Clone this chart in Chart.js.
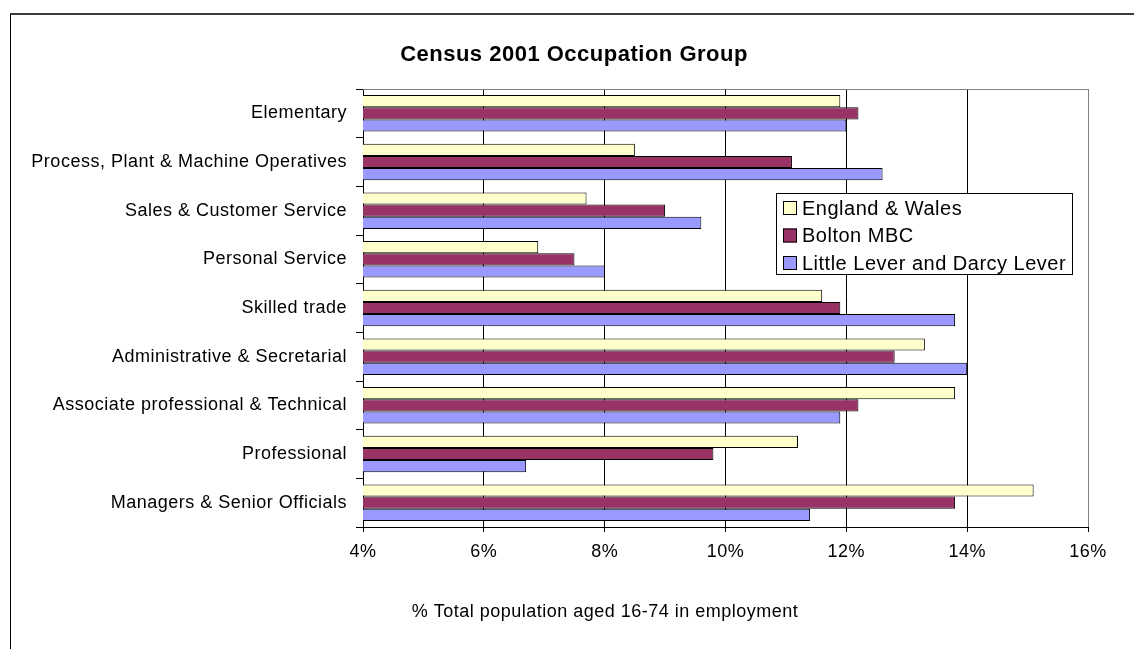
<!DOCTYPE html>
<html>
<head>
<meta charset="utf-8">
<script src="https://cdn.jsdelivr.net/npm/chart.js@4.4.0/dist/chart.umd.min.js"></script>
<style>
    body { margin: 0; background: #fff; }
    #wrap { position: relative; width: 1134px; height: 649px; }
    #frame { position: absolute; left: 10px; top: 13px; right: 0; bottom: 0; border-top: 2px solid #3a3a3a; border-left: 1px solid #000; }
    #chart { position: absolute; left: 0; top: 0; }
</style>
</head>
<body>
<div id="wrap">
    <div id="frame"></div>
    <canvas id="chart" width="1134" height="649"></canvas>
</div>
<script>
// Kategorien (von oben nach unten)
var kategorien = [
    "Elementary",
    "Process, Plant & Machine Operatives",
    "Sales & Customer Service",
    "Personal Service",
    "Skilled trade",
    "Administrative & Secretarial",
    "Associate professional & Technical",
    "Professional",
    "Managers & Senior Officials"
];
var serienNamen = ["England & Wales", "Bolton MBC", "Little Lever and Darcy Lever"];
var englandWales = [11.9, 8.5, 7.7, 6.9, 11.6, 13.3, 13.8, 11.2, 15.1];
var bolton = [12.2, 11.1, 9.0, 7.5, 11.9, 12.8, 12.2, 9.8, 13.8];
var littleLever = [12.0, 12.6, 9.6, 8.0, 13.8, 14.0, 11.9, 6.7, 11.4];
var farben = ["#FFFFCC", "#993366", "#9999FF"];
var xTicks = [4, 6, 8, 10, 12, 14, 16];

var titel = "Census 2001 Occupation Group";
var achsenTitel = "% Total population aged 16-74 in employment";
var schrift = "'Liberation Sans', Arial, sans-serif";

//Titel, Rahmen, Legende und Achsentitel
var extras = {
    id: "extras",
    beforeDraw: function (chart) {
        chart.ctx.letterSpacing = "0.5px";
    },
    beforeDatasetsDraw: function (chart) {
        var ctx = chart.ctx;
        var a = chart.chartArea;
        ctx.save();
        ctx.strokeStyle = "#808080";
        ctx.lineWidth = 1;
        ctx.beginPath();
        ctx.moveTo(a.left, Math.round(a.top) + 0.5);
        ctx.lineTo(a.right, Math.round(a.top) + 0.5);
        ctx.stroke();
        ctx.restore();
    },
    afterDraw: function (chart) {
        var ctx = chart.ctx;
        ctx.save();
        ctx.letterSpacing = "0.5px";
        //Titel
        ctx.fillStyle = "#000";
        ctx.font = "bold 22px " + schrift;
        ctx.textAlign = "center";
        ctx.textBaseline = "alphabetic";
        ctx.fillText(titel, 574, 61);
        //Legende
        var lx = 776, ly = 193, lw = 296, lh = 81;
        ctx.fillStyle = "#fff";
        ctx.fillRect(lx, ly, lw, lh);
        ctx.strokeStyle = "#000";
        ctx.lineWidth = 1;
        ctx.strokeRect(lx + 0.5, ly + 0.5, lw, lh);
        ctx.font = "20px " + schrift;
        ctx.textBaseline = "middle";
        ctx.textAlign = "left";
        chart.data.datasets.forEach(function (ds, i) {
            var y = ly + 15 + i * 27.5;
            ctx.fillStyle = ds.backgroundColor;
            ctx.fillRect(lx + 7, y - 7, 14, 14);
            ctx.strokeStyle = "#000";
            ctx.strokeRect(lx + 7.5, y - 6.5, 13, 13);
            ctx.fillStyle = "#000";
            ctx.fillText(ds.label, lx + 26, y + 1);
        });
        //Achsentitel
        ctx.font = "18px " + schrift;
        ctx.textAlign = "center";
        ctx.fillText(achsenTitel, 605, 612);
        ctx.restore();
    }
};

var canvas = document.getElementById("chart");
var myChart = new Chart(canvas, {
    type: "bar",
    data: {
        labels: kategorien,
        datasets: [
            { label: serienNamen[0], data: englandWales, backgroundColor: farben[0] },
            { label: serienNamen[1], data: bolton, backgroundColor: farben[1] },
            { label: serienNamen[2], data: littleLever, backgroundColor: farben[2] }
        ].map(function (ds) {
            ds.borderColor = "#000";
            ds.borderWidth = 1;
            ds.borderSkipped = "start";
            ds.categoryPercentage = 0.75;
            ds.barPercentage = 1.0;
            return ds;
        })
    },
    options: {
        indexAxis: "y",
        responsive: false,
        animation: false,
        layout: { padding: { left: 10, right: 46, top: 89, bottom: 0 } },
        scales: {
            x: {
                min: 4,
                max: 16,
                afterBuildTicks: function (scale) {
                    scale.ticks = xTicks.map(function (v) { return { value: v }; });
                },
                afterFit: function (scale) { scale.height = 122; },
                grid: {
                    color: function (c) { return c.tick && c.tick.value === 16 ? "#808080" : "#000"; },
                    lineWidth: 1,
                    tickLength: 5,
                    tickColor: "#000"
                },
                border: { color: "#000" },
                ticks: {
                    color: "#000",
                    padding: 9,
                    maxRotation: 0,
                    font: { family: schrift, size: 18 },
                    callback: function (v) { return v + "%"; }
                }
            },
            y: {
                afterFit: function (scale) { scale.width = 353; },
                grid: {
                    drawOnChartArea: false,
                    offset: true,
                    tickLength: 7,
                    color: "#000"
                },
                border: { color: "#000" },
                ticks: {
                    color: "#000",
                    padding: 9,
                    font: { family: schrift, size: 18 }
                }
            }
        },
        plugins: {
            legend: { display: false },
            tooltip: { enabled: false },
            title: { display: false }
        }
    },
    plugins: [extras]
});
</script>
</body>
</html>
